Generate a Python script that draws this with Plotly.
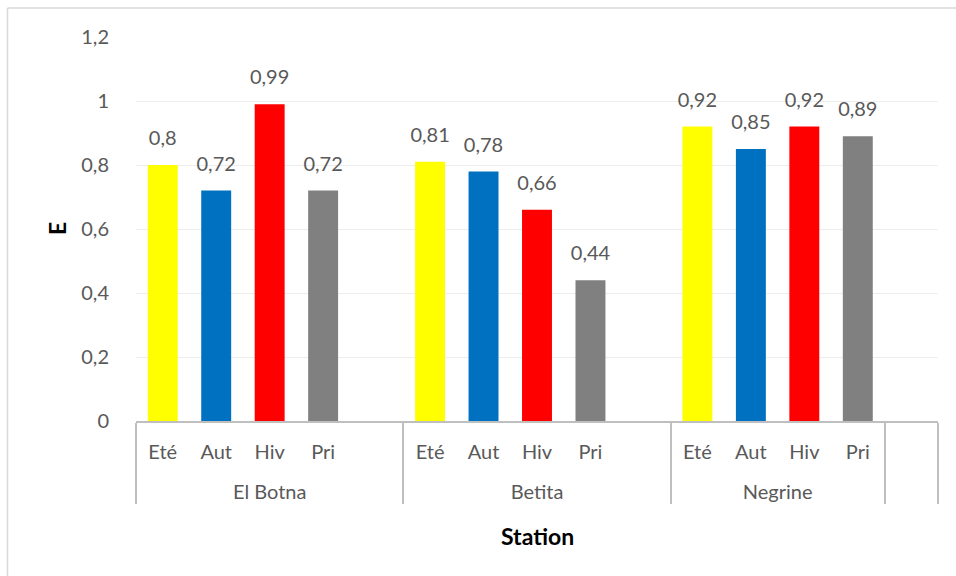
import plotly.graph_objects as go

# Seasons and stations
seasons = ["Eté", "Aut", "Hiv", "Pri"]
season_colors = ["#FFFF00", "#0070C0", "#FF0000", "#808080"]
stations = ["El Botna", "Betita", "Negrine"]

# Equitability index E per station and season
e_el_botna = [0.80, 0.72, 0.99, 0.72]
e_betita = [0.81, 0.78, 0.66, 0.44]
e_negrine = [0.92, 0.85, 0.92, 0.89]
values_by_station = [e_el_botna, e_betita, e_negrine]

# Empty spacer slot after El Botna and Betita, and one empty trailing group
spacer_after = [True, True, False]
trailing_group = " "

x_outer, x_inner, y_vals, colors, labels = [], [], [], [], []
for st, vals, sp in zip(stations, values_by_station, spacer_after):
    # leading line break drops the station name onto a lower row
    st_label = "<br>" + st
    for s, v, c in zip(seasons, vals, season_colors):
        x_outer.append(st_label)
        x_inner.append(s)
        y_vals.append(v)
        colors.append(c)
        labels.append(f"{v:g}".replace(".", ","))
    if sp:
        x_outer.append(st_label)
        x_inner.append(" ")
        y_vals.append(None)
        colors.append("#FFFFFF")
        labels.append("")
x_outer.append("<br>" + trailing_group)
x_inner.append("  ")
y_vals.append(None)
colors.append("#FFFFFF")
labels.append("")

font_family = "Lato, 'Open Sans', sans-serif"
text_color = "#595959"
label_size = 20
n_slots = len(x_outer)

fig = go.Figure()
fig.add_trace(
    go.Bar(
        x=[x_outer, x_inner],
        y=y_vals,
        marker=dict(color=colors, line=dict(width=0)),
        width=0.56,
        hoverinfo="y",
    )
)
# value labels sitting above each bar
fig.add_trace(
    go.Scatter(
        x=[x_outer, x_inner],
        y=y_vals,
        mode="text+markers",
        marker=dict(size=22, opacity=0),
        text=labels,
        textposition="top center",
        textfont=dict(size=label_size, color=text_color, family=font_family),
        cliponaxis=False,
        hoverinfo="skip",
    )
)

fig.update_layout(
    width=956,
    height=576,
    margin=dict(l=136, r=18, t=37, b=155),
    paper_bgcolor="white",
    plot_bgcolor="white",
    separators=", ",
    showlegend=False,
    font=dict(family=font_family, size=label_size, color=text_color),
    xaxis=dict(
        type="multicategory",
        range=[-0.5, n_slots - 0.5],
        showline=True,
        linecolor="#BFBFBF",
        linewidth=2,
        showdividers=True,
        dividercolor="#BFBFBF",
        dividerwidth=2,
        ticks="",
        ticklabelstandoff=12,
        tickfont=dict(size=label_size, color=text_color),
        showgrid=False,
    ),
    yaxis=dict(
        range=[0, 1.2],
        dtick=0.2,
        tickformat="~g",
        showgrid=True,
        gridcolor="#EDEDED",
        gridwidth=1,
        zeroline=False,
        showline=False,
        ticks="outside",
        ticklen=22,
        tickcolor="rgba(0,0,0,0)",
        tickfont=dict(size=label_size, color=text_color),
    ),
    annotations=[
        dict(
            text="<b>E</b>", xref="paper", yref="paper",
            x=(57 - 136) / 802, y=0.5, xanchor="center", yanchor="middle",
            showarrow=False, textangle=-90,
            font=dict(size=23, color="#000000", family=font_family),
        ),
        dict(
            text="<b>Station</b>", xref="paper", yref="paper",
            x=0.5, y=(421 - 536) / 384, xanchor="center", yanchor="middle",
            showarrow=False,
            font=dict(size=23, color="#000000", family=font_family),
        ),
    ],
    shapes=[
        dict(type="line", xref="paper", yref="paper",
             x0=(7.5 - 136) / 802, x1=(960 - 136) / 802,
             y0=(421 - 8) / 384, y1=(421 - 8) / 384,
             line=dict(color="#D9D9D9", width=1.5), layer="below"),
        dict(type="line", xref="paper", yref="paper",
             x0=(7.5 - 136) / 802, x1=(7.5 - 136) / 802,
             y0=(421 - 8) / 384, y1=(421 - 580) / 384,
             line=dict(color="#D9D9D9", width=1.5), layer="below"),
    ],
)

fig.write_html("out.html")
